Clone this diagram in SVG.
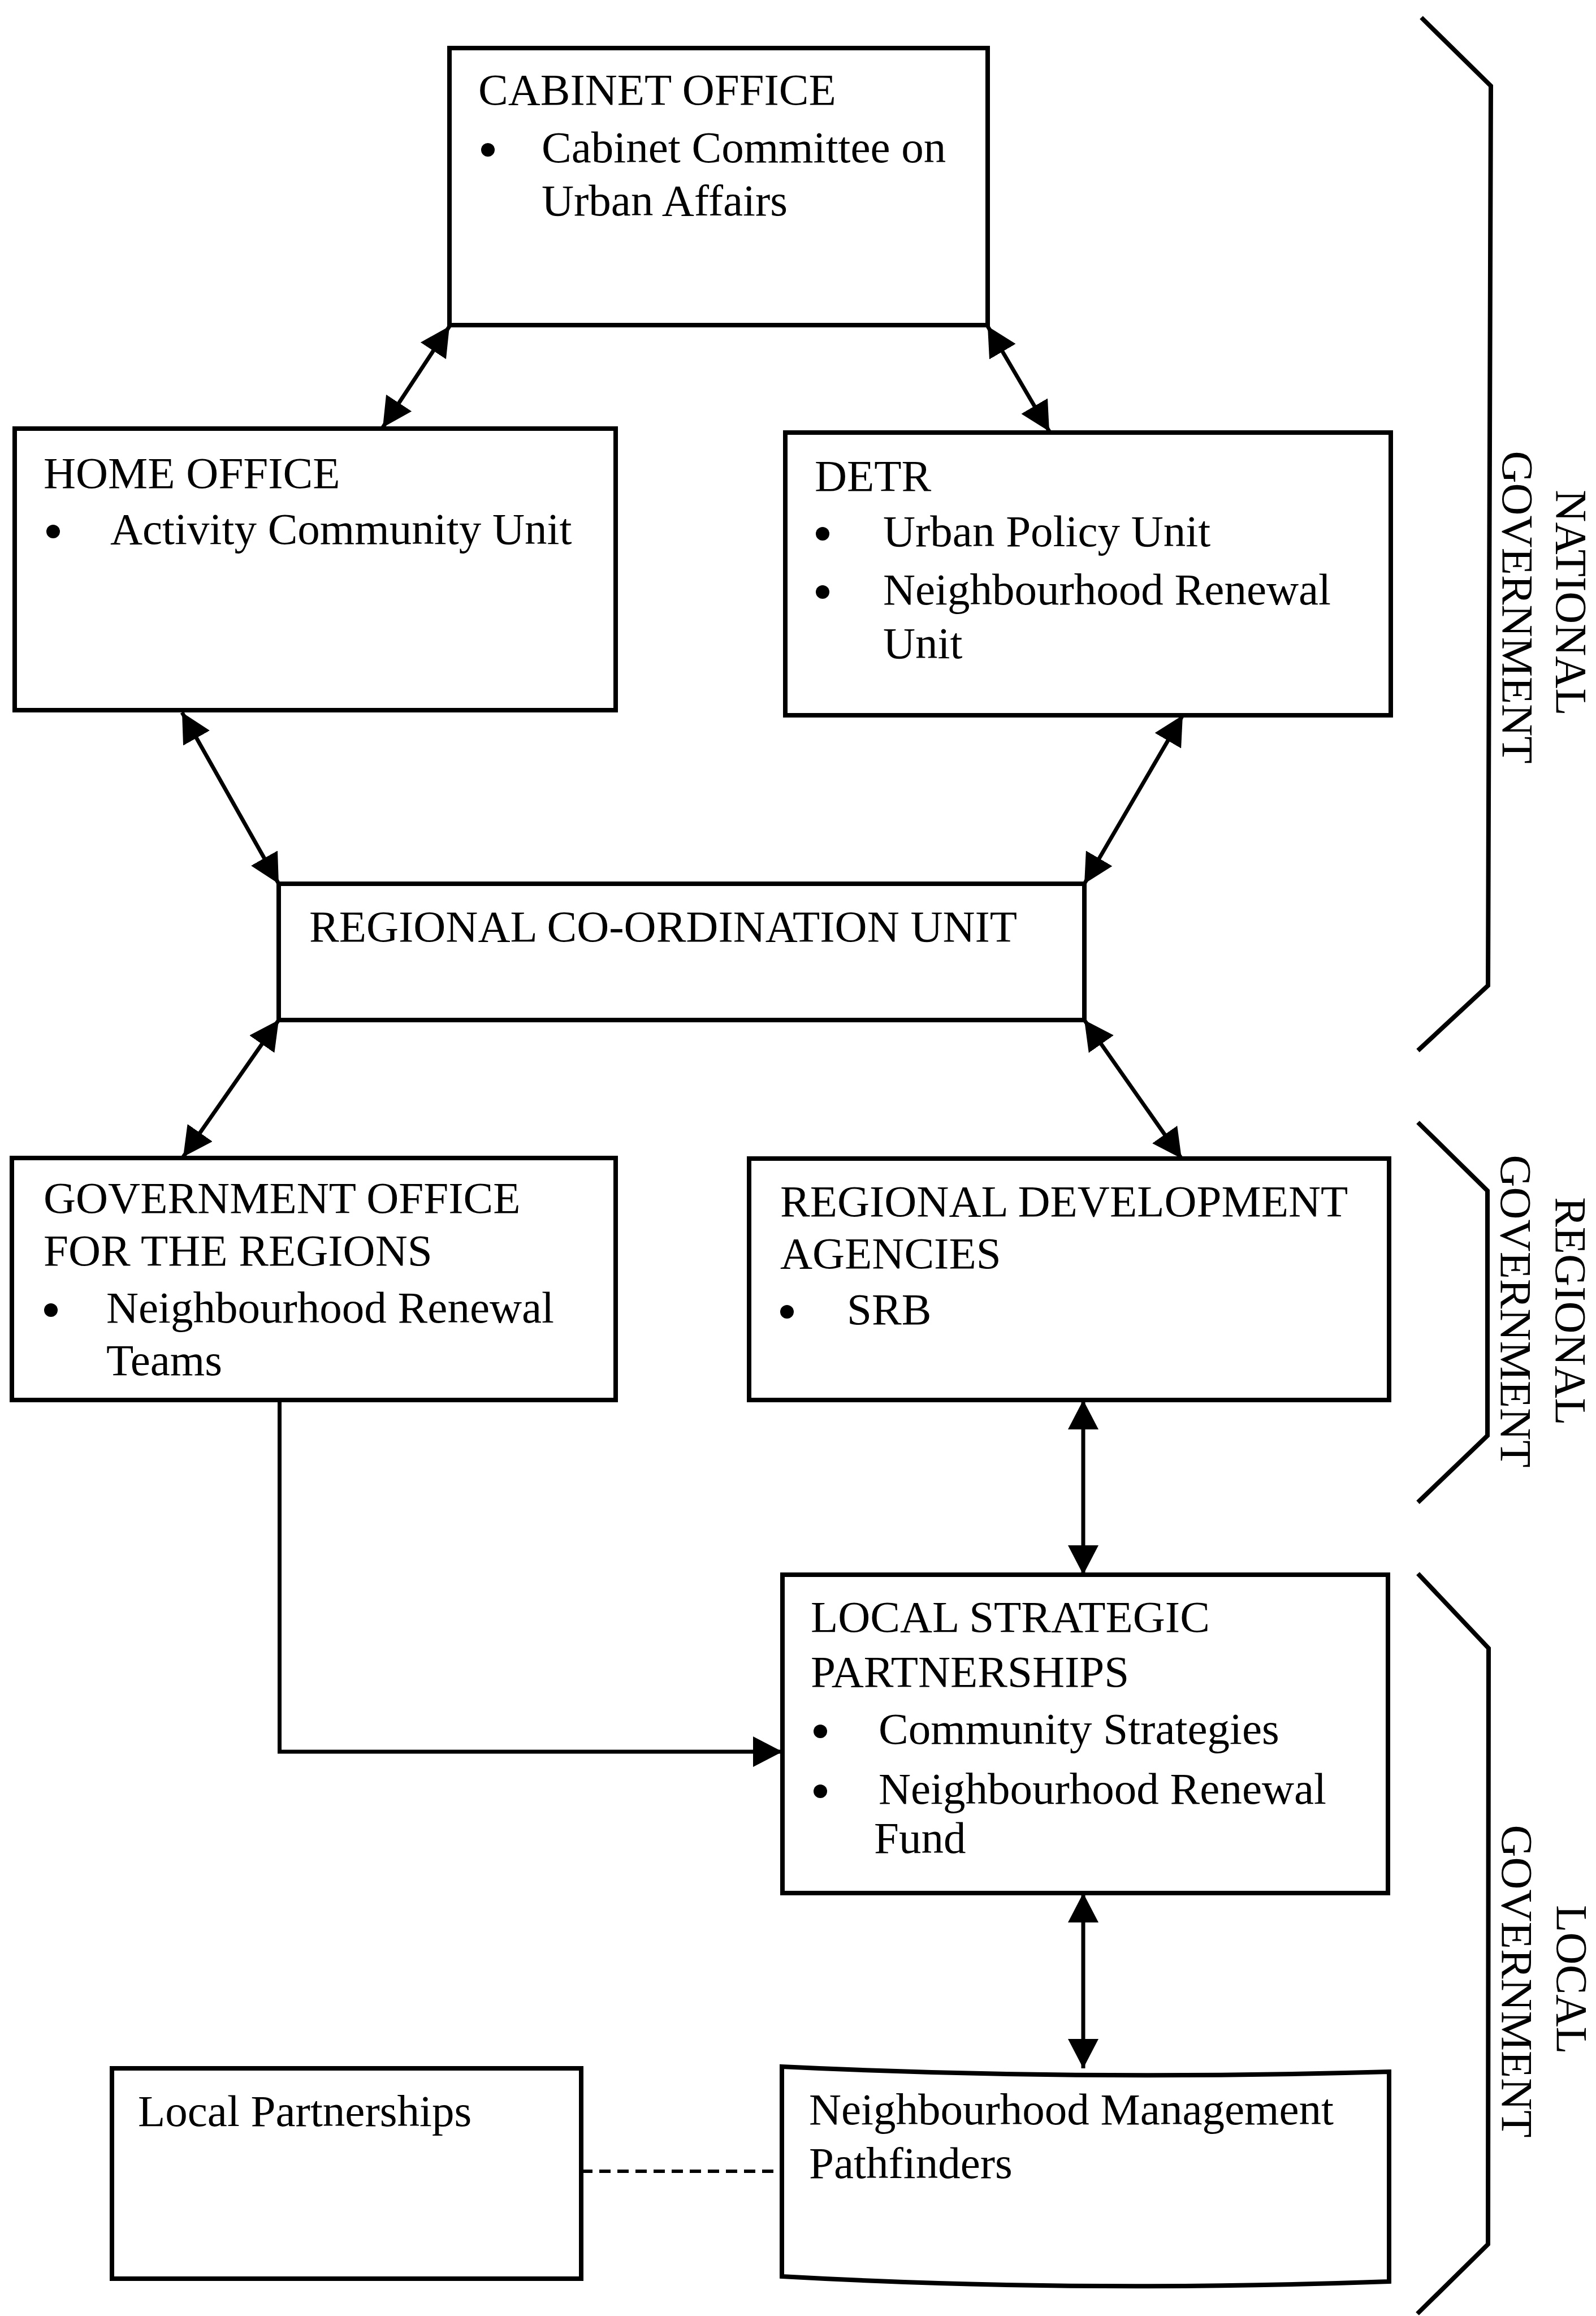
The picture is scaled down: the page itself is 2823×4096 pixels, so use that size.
<svg xmlns="http://www.w3.org/2000/svg" width="2823" height="4096" viewBox="0 0 2823 4096">
<style>
.box{fill:#fff;stroke:#000;stroke-width:8}
.t{font-family:"Liberation Serif","Times New Roman",serif;font-size:79px;fill:#000}
.bul{fill:#000}
.con{fill:none;stroke:#000;stroke-width:7}
.dash{fill:none;stroke:#000;stroke-width:6;stroke-dasharray:20 12}
.brace{fill:none;stroke:#000;stroke-width:8;stroke-linejoin:miter}
</style>
<defs>
<marker id="ah" markerUnits="userSpaceOnUse" markerWidth="54" markerHeight="54" refX="52" refY="27" orient="auto-start-reverse" viewBox="0 0 54 54">
<path d="M0,0 L52,27 L0,54 z" fill="#000"/>
</marker>
</defs>
<rect width="2823" height="4096" fill="#fff"/>

<g id="connectors">
<line class="con" x1="795" y1="577" x2="677" y2="756" marker-start="url(#ah)" marker-end="url(#ah)"/>
<line class="con" x1="1747" y1="577" x2="1856" y2="763" marker-start="url(#ah)" marker-end="url(#ah)"/>
<line class="con" x1="322" y1="1260" x2="493" y2="1563" marker-start="url(#ah)" marker-end="url(#ah)"/>
<line class="con" x1="2092" y1="1265" x2="1918" y2="1563" marker-start="url(#ah)" marker-end="url(#ah)"/>
<line class="con" x1="493" y1="1804" x2="324" y2="2046" marker-start="url(#ah)" marker-end="url(#ah)"/>
<line class="con" x1="1918" y1="1804" x2="2090" y2="2049" marker-start="url(#ah)" marker-end="url(#ah)"/>
<line class="con" x1="1916" y1="2476" x2="1916" y2="2785" marker-start="url(#ah)" marker-end="url(#ah)"/>
<polyline class="con" points="494.5,2476 494.5,3098 1384,3098" marker-end="url(#ah)"/>
<line class="con" x1="1916" y1="3348" x2="1916" y2="3658" marker-start="url(#ah)" marker-end="url(#ah)"/>
<line class="dash" x1="1028" y1="3840" x2="1383" y2="3840"/>
</g>

<g id="cabinet-office">
<rect class="box" x="795" y="85" width="952" height="490"/>
<text class="t" x="846" y="185">CABINET OFFICE</text>
<circle class="bul" cx="863" cy="265" r="12"/>
<text class="t" x="958" y="287">Cabinet Committee on</text>
<text class="t" x="958" y="381">Urban Affairs</text>
</g>

<g id="home-office">
<rect class="box" x="26" y="758" width="1063" height="498"/>
<text class="t" x="77" y="863">HOME OFFICE</text>
<circle class="bul" cx="94" cy="940" r="12"/>
<text class="t" x="195" y="962">Activity Community Unit</text>
</g>

<g id="detr">
<rect class="box" x="1389" y="765" width="1071" height="500"/>
<text class="t" x="1441" y="868">DETR</text>
<circle class="bul" cx="1455" cy="944" r="12"/>
<text class="t" x="1562" y="966">Urban Policy Unit</text>
<circle class="bul" cx="1455" cy="1047" r="12"/>
<text class="t" x="1562" y="1069">Neighbourhood Renewal</text>
<text class="t" x="1562" y="1164">Unit</text>
</g>

<g id="regional-coordination-unit">
<rect class="box" x="493" y="1563" width="1425" height="241"/>
<text class="t" x="547" y="1665">REGIONAL CO-ORDINATION UNIT</text>
</g>

<g id="government-office-regions">
<rect class="box" x="21" y="2048" width="1068" height="428"/>
<text class="t" x="77" y="2145">GOVERNMENT OFFICE</text>
<text class="t" x="77" y="2238">FOR THE REGIONS</text>
<circle class="bul" cx="90" cy="2317" r="12"/>
<text class="t" x="188" y="2339">Neighbourhood Renewal</text>
<text class="t" x="188" y="2432">Teams</text>
</g>

<g id="regional-development-agencies">
<rect class="box" x="1325" y="2049" width="1132" height="427"/>
<text class="t" x="1380" y="2151">REGIONAL DEVELOPMENT</text>
<text class="t" x="1380" y="2243">AGENCIES</text>
<circle class="bul" cx="1392" cy="2320" r="12"/>
<text class="t" x="1498" y="2342">SRB</text>
</g>

<g id="local-strategic-partnerships">
<rect class="box" x="1384" y="2785" width="1071" height="563"/>
<text class="t" x="1434" y="2886">LOCAL STRATEGIC</text>
<text class="t" x="1434" y="2983">PARTNERSHIPS</text>
<circle class="bul" cx="1451" cy="3062" r="12"/>
<text class="t" x="1554" y="3084">Community Strategies</text>
<circle class="bul" cx="1451" cy="3168" r="12"/>
<text class="t" x="1554" y="3190">Neighbourhood Renewal</text>
<text class="t" x="1546" y="3277">Fund</text>
</g>

<g id="local-partnerships">
<rect class="box" x="198" y="3658" width="830" height="372"/>
<text class="t" x="244" y="3760">Local Partnerships</text>
</g>

<g id="neighbourhood-management-pathfinders">
<path class="box" d="M1383,3655 Q1900,3680 2457,3664 L2457,4035 Q1900,4055 1383,4026 Z"/>
<text class="t" x="1431" y="3757">Neighbourhood Management</text>
<text class="t" x="1431" y="3852">Pathfinders</text>
</g>

<g id="national-government">
<polyline class="brace" points="2514,31 2637,152 2632,1743 2508,1858"/>
<text class="t" text-anchor="middle" transform="translate(2753,1066) rotate(90)">NATIONAL</text>
<text class="t" text-anchor="middle" transform="translate(2658,1074) rotate(90)">GOVERNMENT</text>
</g>

<g id="regional-government">
<polyline class="brace" points="2508,1985 2631,2106 2631,2539 2508,2657"/>
<text class="t" text-anchor="middle" transform="translate(2752,2319) rotate(90)">REGIONAL</text>
<text class="t" text-anchor="middle" transform="translate(2655,2319) rotate(90)">GOVERNMENT</text>
</g>

<g id="local-government">
<polyline class="brace" points="2508,2783 2633,2915 2632,3969 2507,4092"/>
<text class="t" text-anchor="middle" transform="translate(2754,3501) rotate(90)">LOCAL</text>
<text class="t" text-anchor="middle" transform="translate(2657,3504) rotate(90)">GOVERNMENT</text>
</g>
</svg>
